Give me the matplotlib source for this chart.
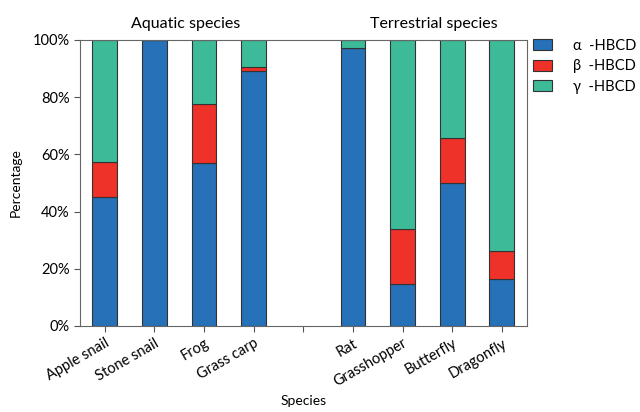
import numpy as np
import matplotlib.pyplot as plt
from matplotlib.ticker import PercentFormatter

plt.rcParams['font.family'] = ['Lato', 'DejaVu Sans']

# species, with an empty slot between the two groups
species = ['Apple snail', 'Stone snail', 'Frog', 'Grass carp', '',
           'Rat', 'Grasshopper', 'Butterfly', 'Dragonfly']
alpha = [45.0, 100.0, 56.8, 89.2, 0, 97.1, 14.5, 50.1, 16.3]
beta = [12.3, 0.0, 20.7, 1.4, 0, 0.0, 19.5, 15.5, 9.9]
gamma = [42.7, 0.0, 22.5, 9.4, 0, 2.9, 66.0, 34.4, 73.8]

labels = ['\u03b1  -HBCD', '\u03b2  -HBCD', '\u03b3  -HBCD']
colors = ['#2671b8', '#ee3129', '#3dbb98']

fig = plt.figure(figsize=(6.4, 4.12), dpi=100)
ax = fig.add_axes([0.125, 0.209, 0.698, 0.694])

x = np.arange(len(species))
a = np.array(alpha)
b = np.array(beta)
g = np.array(gamma)
keep = (a + b + g) > 0  # skip the blank separator slot
kw = dict(width=0.5, edgecolor='#333333', linewidth=0.8)
ax.bar(x[keep], a[keep], color=colors[0], label=labels[0], **kw)
ax.bar(x[keep], b[keep], bottom=a[keep], color=colors[1], label=labels[1], **kw)
ax.bar(x[keep], g[keep], bottom=(a + b)[keep], color=colors[2], label=labels[2], **kw)

ax.set_xlim(-0.5, len(species) - 0.5)
ax.set_ylim(0, 100)
ax.set_yticks([0, 20, 40, 60, 80, 100])
ax.yaxis.set_major_formatter(PercentFormatter(decimals=0))
ax.set_xticks(x)
ax.set_xticklabels(species, rotation=30, ha='right', rotation_mode='anchor', fontsize=10.5)
ax.tick_params(axis='y', labelsize=10.5)
ax.tick_params(color='#555555', length=4)
for s in ax.spines.values():
    s.set_color('#666666')

ax.set_ylabel('Percentage', fontsize=10, labelpad=8)
ax.set_xlabel('Species', fontsize=10)
ax.xaxis.set_label_coords(0.5, -0.24)

ax.text(1.63, 103, 'Aquatic species', ha='center', va='bottom', fontsize=11.5)
ax.text(6.63, 103, 'Terrestrial species', ha='center', va='bottom', fontsize=11.5)

ax.legend(loc='upper left', bbox_to_anchor=(1.0, 1.025), borderaxespad=0,
          frameon=False, fontsize=10.5, handlelength=1.3, handleheight=0.8,
          handletextpad=1.5, labelspacing=0.45)

fig.savefig('out.png', dpi=100)
